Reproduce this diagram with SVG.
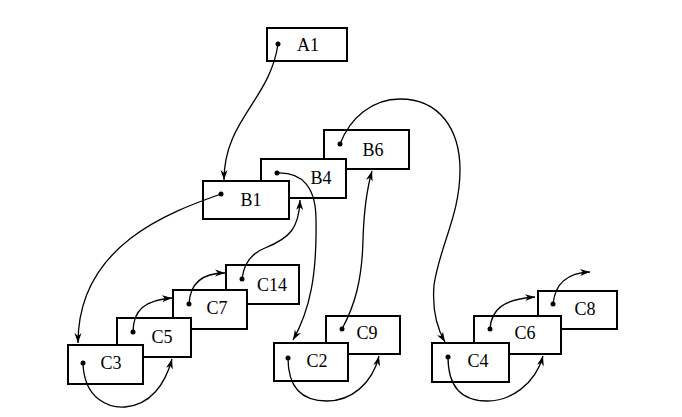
<svg xmlns="http://www.w3.org/2000/svg" width="682" height="417" viewBox="0 0 682 417">
<style>
.box{fill:#fff;stroke:#000;stroke-width:2}
.dot{fill:#000}
.lbl{font-family:"Liberation Serif","Times New Roman",serif;font-size:18px;fill:#000;text-anchor:middle}
.con{fill:none;stroke:#000;stroke-width:1.3;marker-end:url(#ah)}
</style>
<defs>
<marker id="ah" markerUnits="userSpaceOnUse" markerWidth="11" markerHeight="8" refX="10" refY="4" orient="auto" viewBox="0 0 11 8">
<path d="M0,0.5 L10,4 L0,7.5 L3,4 Z" fill="#000"/>
</marker>
</defs>
<rect width="682" height="417" fill="#fff"/>
<g id="A1"><rect class="box" x="267" y="28" width="80" height="33"/><circle class="dot" cx="278" cy="44" r="2.5"/><text class="lbl" x="308" y="51">A1</text></g>
<g id="B6"><rect class="box" x="324" y="130" width="85" height="39"/><circle class="dot" cx="340" cy="144" r="2.5"/><text class="lbl" x="373" y="156">B6</text></g>
<g id="B4"><rect class="box" x="261" y="159" width="85" height="39"/><circle class="dot" cx="277" cy="173" r="2.5"/><text class="lbl" x="321" y="184">B4</text></g>
<g id="B1"><rect class="box" x="203" y="181" width="86" height="38"/><circle class="dot" cx="221" cy="194" r="2.5"/><text class="lbl" x="251" y="206">B1</text></g>
<g id="C14"><rect class="box" x="226" y="265" width="73" height="39"/><circle class="dot" cx="242" cy="279" r="2.5"/><text class="lbl" x="272" y="291">C14</text></g>
<g id="C7"><rect class="box" x="173" y="290" width="74" height="39"/><circle class="dot" cx="189" cy="304" r="2.5"/><text class="lbl" x="217" y="314">C7</text></g>
<g id="C5"><rect class="box" x="117" y="318" width="74" height="39"/><circle class="dot" cx="133" cy="332" r="2.5"/><text class="lbl" x="162" y="343">C5</text></g>
<g id="C3"><rect class="box" x="68" y="345" width="75" height="39"/><circle class="dot" cx="83" cy="363" r="2.5"/><text class="lbl" x="111" y="369">C3</text></g>
<g id="C9"><rect class="box" x="326" y="316" width="74" height="38"/><circle class="dot" cx="342" cy="329" r="2.5"/><text class="lbl" x="367" y="339">C9</text></g>
<g id="C2"><rect class="box" x="274" y="343" width="74" height="38"/><circle class="dot" cx="288" cy="358" r="2.5"/><text class="lbl" x="317" y="367">C2</text></g>
<g id="C8"><rect class="box" x="538" y="291" width="79" height="38"/><circle class="dot" cx="553" cy="304" r="2.5"/><text class="lbl" x="585" y="315">C8</text></g>
<g id="C6"><rect class="box" x="474" y="316" width="87" height="38"/><circle class="dot" cx="490" cy="329" r="2.5"/><text class="lbl" x="525" y="339">C6</text></g>
<g id="C4"><rect class="box" x="432" y="343" width="77" height="39"/><circle class="dot" cx="448" cy="357" r="2.5"/><text class="lbl" x="478" y="367">C4</text></g>
<g id="connectors">
<path class="con" d="M278,44 C270,100 224,120 224,180"/>
<path class="con" d="M221,194 C170,212 78,245 78,343"/>
<path class="con" d="M277,173 C303,172 316,188 316,220 C317,275 310,310 293,340"/>
<path class="con" d="M340,144 C350,118 372,99 400,99 C440,99 460,130 460,170 C460,215 440,245 434,285 C432,310 438,330 445,342"/>
<path class="con" d="M342,329 C355,305 362,280 363,240 C364,205 368,185 372,171"/>
<path class="con" d="M242,279 C244,262 252,253 265,248 C290,238 299,228 300,200"/>
<path class="con" d="M83,363 C84,400 110,408 125,407 C150,405 165,385 172,359"/>
<path class="con" d="M133,332 C133,310 145,300 172,298"/>
<path class="con" d="M189,304 C190,285 200,273 225,273"/>
<path class="con" d="M288,358 C288,395 310,401 327,401 C350,401 372,385 379,356"/>
<path class="con" d="M448,357 C448,395 470,401 487,401 C510,401 535,385 543,356"/>
<path class="con" d="M490,329 C491,310 503,299 535,297"/>
<path class="con" d="M553,304 C555,285 565,273 590,272"/>
</g>
</svg>
